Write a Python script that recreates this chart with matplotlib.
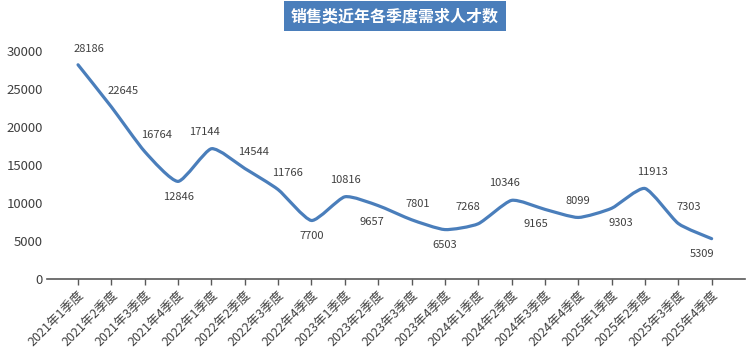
import numpy as np
import matplotlib
matplotlib.use("Agg")
import matplotlib.pyplot as plt
from matplotlib.path import Path
from matplotlib.patches import PathPatch

plt.rcParams['font.family'] = ['Noto Sans CJK SC', 'DejaVu Sans']

quarters = [f'{y}年{q}季度' for y in range(2021, 2026) for q in range(1, 5)]
demand = [28186, 22645, 16764, 12846, 17144, 14544, 11766, 7700, 10816, 9657,
          7801, 6503, 7268, 10346, 9165, 8099, 9303, 11913, 7303, 5309]
# label offsets in pixels (dx, dy)
label_offsets = [(11, 16), (12, 16), (12, 17), (0, -16), (-7, 17), (9, 16), (9, 17),
                 (0, -16), (1, 17), (-6, -16), (6, 16), (0, -15), (-10, 17), (-7, 17),
                 (-9, -15), (0, 16), (9, -15), (8, 16), (10, 17), (-10, -15)]

line_color = '#4a7ebb'

fig = plt.figure(figsize=(7.5, 3.53), dpi=100)
ax = fig.add_axes([0.0627, 0.2096, 0.9306, 0.6459])

x = np.arange(len(demand))
y = np.array(demand, dtype=float)

# lightly smoothed line (cubic bezier through each point)
tension = 10
verts = [(x[0], y[0])]
codes = [Path.MOVETO]
n = len(x)
for i in range(n - 1):
    p0 = np.array([x[max(i - 1, 0)], y[max(i - 1, 0)]])
    p1 = np.array([x[i], y[i]])
    p2 = np.array([x[i + 1], y[i + 1]])
    p3 = np.array([x[min(i + 2, n - 1)], y[min(i + 2, n - 1)]])
    c1 = p1 + (p2 - p0) / tension
    c2 = p2 - (p3 - p1) / tension
    verts += [tuple(c1), tuple(c2), tuple(p2)]
    codes += [Path.CURVE4] * 3
ax.add_patch(PathPatch(Path(verts, codes), facecolor='none', edgecolor=line_color,
                       lw=2.3, capstyle='round', joinstyle='round', clip_on=False))
ax.plot(x, y, alpha=0)

for xi, yi, (dx, dy) in zip(x, y, label_offsets):
    ax.annotate(str(int(yi)), (xi, yi), xytext=(dx, dy), textcoords='offset pixels',
                ha='center', va='center', fontsize=8, color='#404040')

ax.set_xlim(-0.93, 20)
ax.set_ylim(0, 30000)
ax.set_yticks(range(0, 30001, 5000))
ax.set_xticks(x)
ax.set_xticklabels(quarters, rotation=45, ha='right', rotation_mode='anchor',
                   fontsize=9, color='#404040')
ax.tick_params(axis='y', length=0, labelsize=9.5, labelcolor='#404040', pad=3)
ax.tick_params(axis='x', length=4, width=1, color='#595959', direction='out', pad=3)

for s in ['top', 'right', 'left']:
    ax.spines[s].set_visible(False)
ax.spines['bottom'].set_color('#595959')
ax.spines['bottom'].set_linewidth(1.2)

fig.text(0.5267, 0.955, '销售类近年各季度需求人才数', ha='center', va='center',
         fontsize=11.5, fontweight='bold', color='white',
         bbox=dict(boxstyle='square,pad=0.45', facecolor='#4a7ebb', edgecolor='none'))

fig.savefig('out.png', dpi=100)
